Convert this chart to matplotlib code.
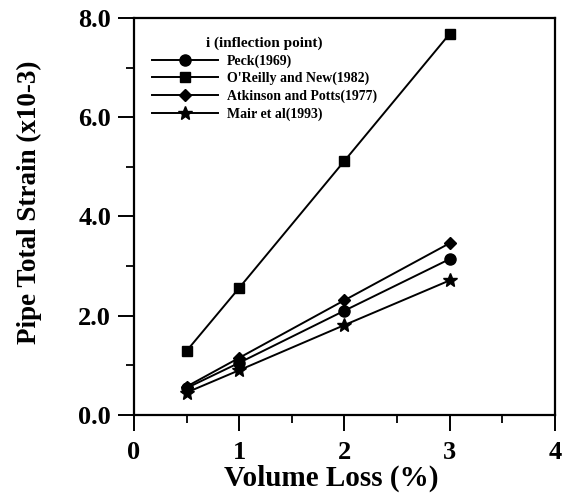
import numpy as np
import matplotlib.pyplot as plt
from matplotlib.ticker import MultipleLocator, FormatStrFormatter

plt.rcParams['font.family'] = ['Liberation Serif', 'DejaVu Serif']
plt.rcParams['font.weight'] = 'bold'

# Volume loss (%) and pipe total strain (x10-3) for each inflection point method
volume_loss = [0.5, 1, 2, 3]
peck = [0.54, 1.05, 2.10, 3.14]
oreilly_new = [1.29, 2.56, 5.12, 7.68]
atkinson_potts = [0.57, 1.15, 2.31, 3.46]
mair = [0.45, 0.90, 1.81, 2.71]

series = [
    ("Peck(1969)", peck, 'o', 8),
    ("O'Reilly and New(1982)", oreilly_new, 's', 7.5),
    ("Atkinson and Potts(1977)", atkinson_potts, 'D', 6.5),
    ("Mair et al(1993)", mair, '*', 10),
]

fig = plt.figure(figsize=(5.68, 4.98), dpi=100)
ax = fig.add_axes([0.236, 0.167, 0.741, 0.797])

for label, vals, mk, ms in series:
    ax.plot(volume_loss, vals, color='black', lw=1.4, marker=mk, ms=ms,
            label=label)

ax.set_xlim(0, 4)
ax.set_ylim(0, 8)
ax.xaxis.set_major_locator(MultipleLocator(1))
ax.xaxis.set_minor_locator(MultipleLocator(0.5))
ax.yaxis.set_major_locator(MultipleLocator(2))
ax.yaxis.set_minor_locator(MultipleLocator(1))
ax.yaxis.set_major_formatter(FormatStrFormatter('%.1f'))
ax.tick_params(which='major', direction='out', length=11.5, width=1.4,
               labelsize=19)
ax.tick_params(axis='y', which='major', pad=5)
ax.tick_params(axis='x', which='major', pad=7)
ax.tick_params(which='minor', direction='out', length=6, width=1.3)
for sp in ax.spines.values():
    sp.set_linewidth(1.6)

ax.set_xlabel('Volume Loss (%)', fontsize=21, fontweight='bold')
ax.set_ylabel('Pipe Total Strain (x10-3)', fontsize=19.5, fontweight='bold')
ax.xaxis.set_label_coords(0.468, -0.125)
ax.yaxis.set_label_coords(-0.219, 0.536)

leg = ax.legend(title='i (inflection point)', loc='upper left',
                bbox_to_anchor=(0.043, 0.953), frameon=False,
                prop={'size': 10, 'weight': 'bold'}, title_fontsize=11,
                handlelength=4.75, handletextpad=0.65, labelspacing=0.3,
                borderpad=0, borderaxespad=0)
leg.get_title().set_fontweight('bold')

fig.savefig('out.png', dpi=100)
